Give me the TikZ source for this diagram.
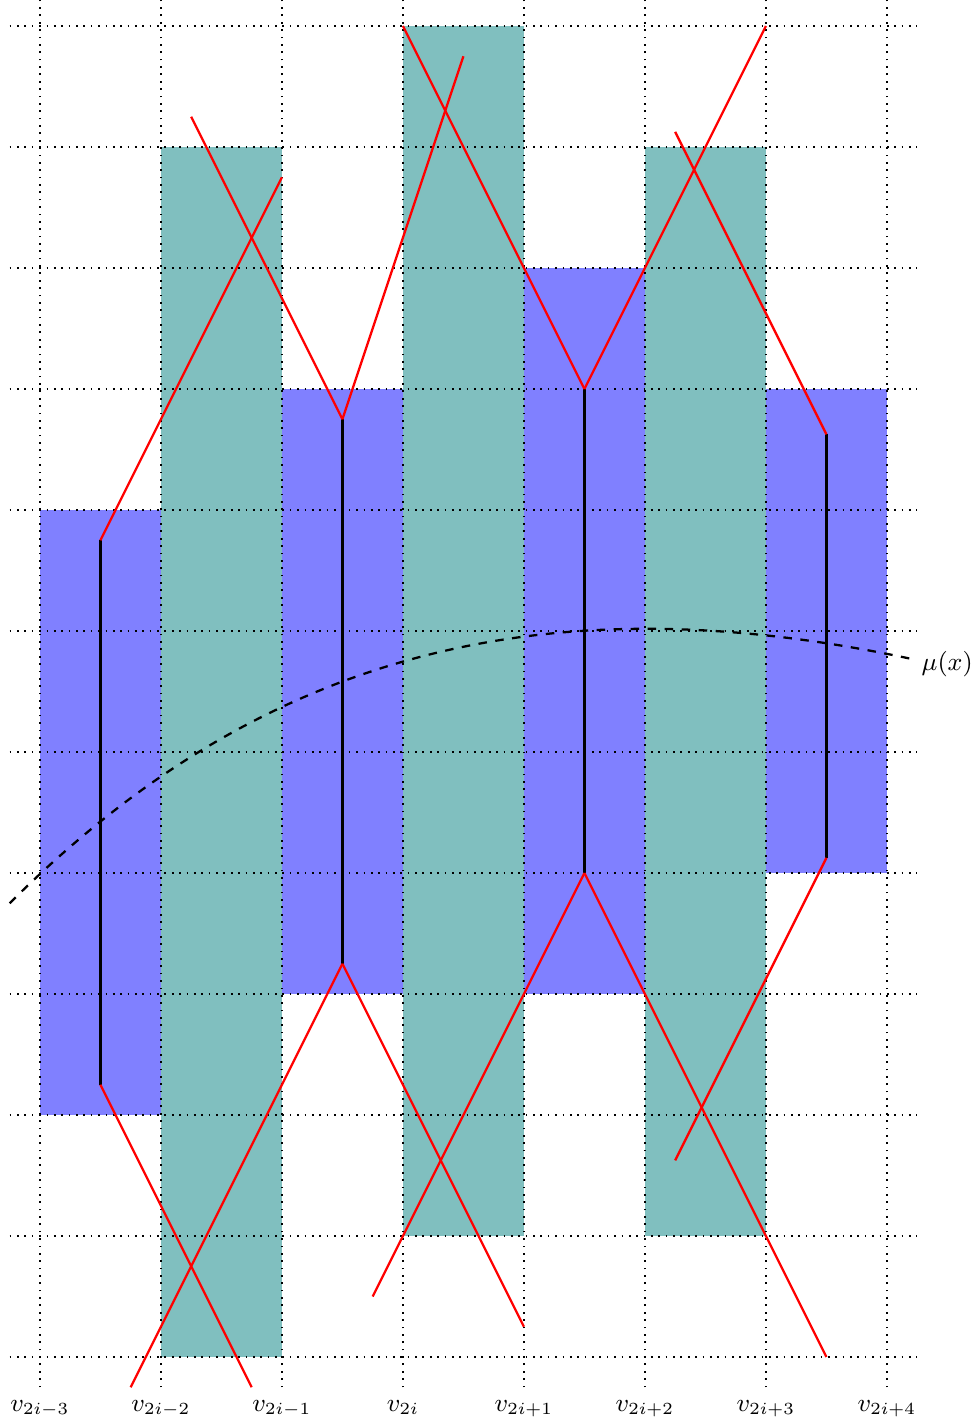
\documentclass[tikz,border=0pt]{standalone}
\usepackage{amsmath, amssymb}
\usepackage{xcolor}
\usetikzlibrary{calc}

\begin{document}
\begin{tikzpicture}[x=1.5cm, y=1.5cm, font=\small]
  \useasboundingbox (-0.33,-0.537) rectangle (7.735,11.215);
  % cells
  \fill[blue!50] (0,2) rectangle (1,7);
  \fill[teal!50] (1,0) rectangle (2,10);
  \fill[blue!50] (2,3) rectangle (3,8);
  \fill[teal!50] (3,1) rectangle (4,11);
  \fill[blue!50] (4,3) rectangle (5,9);
  \fill[teal!50] (5,1) rectangle (6,10);
  \fill[blue!50] (6,4) rectangle (7,8);
  % grid
  \foreach \y in {0,...,11}
    \draw[dotted, semithick] (-0.25,\y) -- (7.25,\y);
  \foreach \x in {0,...,7}
    \draw[dotted, semithick] (\x,-0.25) -- (\x,11.25);
  \foreach \x/\s in {0/{2i-3}, 1/{2i-2}, 2/{2i-1}, 3/{2i}, 4/{2i+1}, 5/{2i+2}, 6/{2i+3}, 7/{2i+4}}
    \node[anchor=base] (v\x) at (\x,-0.45) {$v_{\s}$};
  % shocks
  \coordinate (a1) at (0.5,6.75);  \coordinate (a2) at (0.5,2.25);
  \coordinate (b1) at (2.5,7.75);  \coordinate (b2) at (2.5,3.25);
  \coordinate (c1) at (4.5,8);     \coordinate (c2) at (4.5,4);
  \coordinate (d1) at (6.5,7.625); \coordinate (d2) at (6.5,4.125);
  \draw[thick] (a1) -- (a2);
  \draw[thick] (b1) -- (b2);
  \draw[thick] (c1) -- (c2);
  \draw[thick] (d1) -- (d2);
  \draw[thick, red] (a1) -- ++(1.5,3);
  \draw[thick, red] (a2) -- ++(1.25,-2.5);
  \draw[thick, red] (b1) -- ++(-1.25,2.5);
  \draw[thick, red] (b1) -- ++(1,3);
  \draw[thick, red] (b2) -- ++(-1.75,-3.5);
  \draw[thick, red] (b2) -- ++(1.5,-3);
  \draw[thick, red] (c1) -- ++(-1.5,3);
  \draw[thick, red] (c1) -- ++(1.5,3);
  \draw[thick, red] (c2) -- ++(-1.75,-3.5);
  \draw[thick, red] (c2) -- ++(2,-4);
  \draw[thick, red] (d1) -- ++(-1.25,2.5);
  \draw[thick, red] (d2) -- ++(-1.25,-2.5);
  % mean
  \draw[thick, dashed] (-0.25,3.75) to[out=45,in=168] (7.2,5.77)
    node[right, yshift=-2pt] (mu) {$\mu(x)$};
\end{tikzpicture}
\end{document}
